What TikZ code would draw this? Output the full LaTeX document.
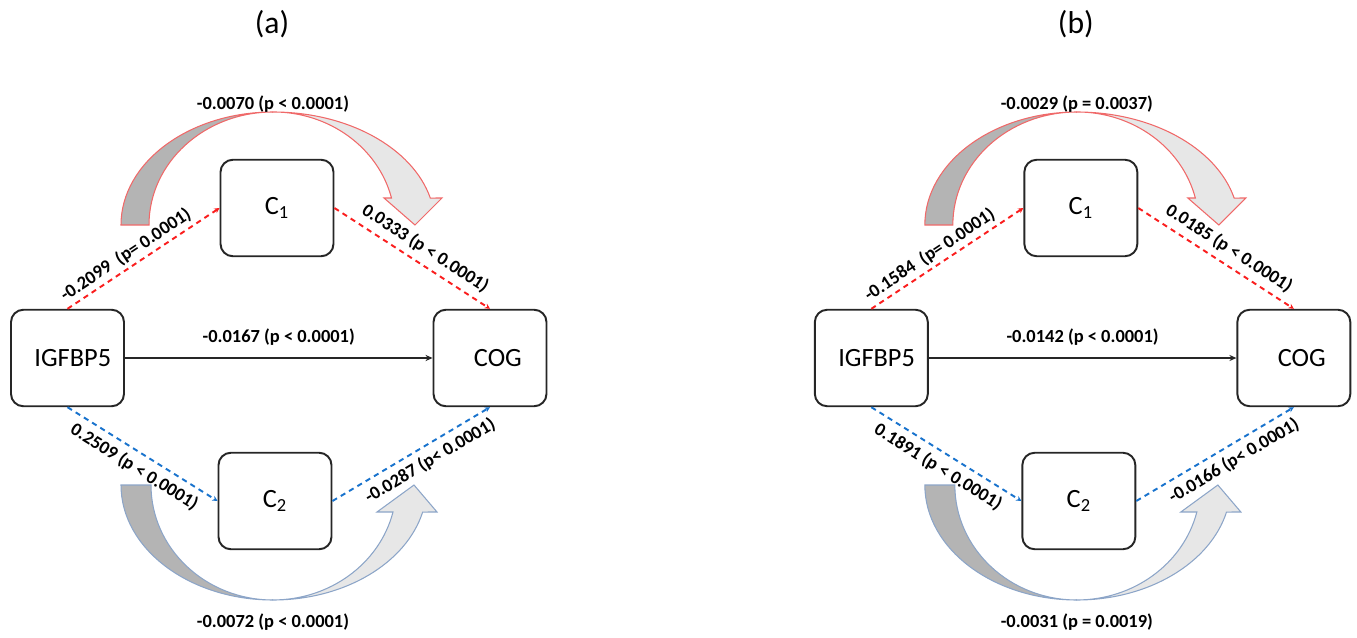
\documentclass[tikz,border=0pt]{standalone}
\usepackage{fontspec}
\setmainfont{Carlito}
\usetikzlibrary{arrows.meta}
\definecolor{pathred}{RGB}{250,30,30}
\definecolor{pathblue}{RGB}{25,115,205}
\definecolor{arcred}{RGB}{240,105,105}
\definecolor{arcblue}{RGB}{140,165,200}
\definecolor{backgray}{RGB}{180,180,180}
\definecolor{frontgray}{RGB}{231,231,231}

\begin{document}
\begin{tikzpicture}[x=0.02cm, y=0.02cm,
  var/.style={draw=black!85, line width=1.1pt, rounded corners=7pt, minimum width=2.26cm, minimum height=1.93cm, font=\fontsize{15}{18}\selectfont},
  coef/.style={text=black, font=\bfseries\fontsize{10.5}{12}\selectfont, inner sep=1pt},
  paneltitle/.style={font=\fontsize{18}{22}\selectfont},
  redpath/.style={pathred, line width=1.1pt, dash pattern=on 3pt off 2.5pt, -{Stealth[length=3pt,width=3pt]}},
  bluepath/.style={pathblue, line width=1.1pt, dash pattern=on 3pt off 2.5pt, -{Stealth[length=3pt,width=3pt]}},
  direct/.style={black!85, line width=0.9pt, -{Stealth[length=4pt,width=3.5pt]}},
  backarc/.style={fill=backgray, line width=0.6pt},
  frontarc/.style={fill=frontgray, line width=0.6pt}]
\useasboundingbox (0,0) rectangle (1357,637);

% panel (a)
\node[paneltitle] (ta) at (272,613) {(a)};
\node[var] (igfa) at (67.5,279) {\hspace*{6pt}IGFBP5};
\node[var] (coga) at (490,279) {\hspace*{9pt}COG};
\node[var] (c1a) at (277,429) {C\textsubscript{1}};
\node[var] (c2a) at (275,136) {C\textsubscript{2}};

% indirect effects, upper and lower
\filldraw[backarc, draw=arcred] (121,412) arc[start angle=180, end angle=90, x radius=152, y radius=113]
  arc[start angle=90, end angle=180, x radius=124, y radius=113] -- cycle;
\filldraw[frontarc, draw=arcred] (273,525) arc[start angle=90, end angle=13.8, x radius=162, y radius=113]
  -- (442,439) -- (415,412) -- (384,439) -- (391.5,439)
  arc[start angle=13.8, end angle=90, x radius=122, y radius=113] -- cycle;
\node[coef] (ka) at (273,533) {-0.0070 (p < 0.0001)};
\filldraw[backarc, draw=arcblue] (121,152) arc[start angle=180, end angle=270, x radius=152, y radius=115]
  arc[start angle=270, end angle=180, x radius=122, y radius=115] -- cycle;
\filldraw[frontarc, draw=arcblue] (273,37) arc[start angle=270, end angle=346.4, x radius=154, y radius=115]
  -- (437,125) -- (414,152) -- (377,125) -- (393,125)
  arc[start angle=346.4, end angle=270, x radius=123.5, y radius=115] -- cycle;
\node[coef] (ma) at (273,15) {-0.0072 (p < 0.0001)};

\draw[direct] (igfa) -- (coga) node[coef, midway, above=6pt] (da) {-0.0167 (p < 0.0001)};
\draw[redpath] (igfa.north) -- (c1a.west) node[coef, pos=.43, sloped, above=1pt] (ra1) {-0.2099 \ (p= 0.0001)};
\draw[redpath] (c1a.east) -- (coga.north) node[coef, pos=.53, sloped, above=2.5pt] (ra2) {0.0333 (p < 0.0001)};
\draw[bluepath] (igfa.south) -- (c2a.west) node[coef, pos=.5, sloped, below=2.5pt] (ba1) {0.2509 (p < 0.0001)};
\draw[bluepath] (c2a.east) -- (coga.south) node[coef, pos=.57, sloped, below=2.5pt] (ba2) {-0.0287 (p< 0.0001)};

% panel (b)
\begin{scope}[xshift=16.08cm]
\node[paneltitle] (tb) at (272,613) {(b)};
\node[var] (igfb) at (67.5,279) {\hspace*{6pt}IGFBP5};
\node[var] (cogb) at (490,279) {\hspace*{9pt}COG};
\node[var] (c1b) at (277,429) {C\textsubscript{1}};
\node[var] (c2b) at (275,136) {C\textsubscript{2}};

\filldraw[backarc, draw=arcred] (121,412) arc[start angle=180, end angle=90, x radius=152, y radius=113]
  arc[start angle=90, end angle=180, x radius=124, y radius=113] -- cycle;
\filldraw[frontarc, draw=arcred] (273,525) arc[start angle=90, end angle=13.8, x radius=162, y radius=113]
  -- (442,439) -- (415,412) -- (384,439) -- (391.5,439)
  arc[start angle=13.8, end angle=90, x radius=122, y radius=113] -- cycle;
\node[coef] (kb) at (273,533) {-0.0029 (p = 0.0037)};
\filldraw[backarc, draw=arcblue] (121,152) arc[start angle=180, end angle=270, x radius=152, y radius=115]
  arc[start angle=270, end angle=180, x radius=122, y radius=115] -- cycle;
\filldraw[frontarc, draw=arcblue] (273,37) arc[start angle=270, end angle=346.4, x radius=154, y radius=115]
  -- (437,125) -- (414,152) -- (377,125) -- (393,125)
  arc[start angle=346.4, end angle=270, x radius=123.5, y radius=115] -- cycle;
\node[coef] (mb) at (273,15) {-0.0031 (p = 0.0019)};

\draw[direct] (igfb) -- (cogb) node[coef, midway, above=6pt] (db) {-0.0142 (p < 0.0001)};
\draw[redpath] (igfb.north) -- (c1b.west) node[coef, pos=.43, sloped, above=1pt] (rb1) {-0.1584 \ (p= 0.0001)};
\draw[redpath] (c1b.east) -- (cogb.north) node[coef, pos=.53, sloped, above=2.5pt] (rb2) {0.0185 (p < 0.0001)};
\draw[bluepath] (igfb.south) -- (c2b.west) node[coef, pos=.5, sloped, below=2.5pt] (bb1) {0.1891 (p < 0.0001)};
\draw[bluepath] (c2b.east) -- (cogb.south) node[coef, pos=.57, sloped, below=2.5pt] (bb2) {-0.0166 (p< 0.0001)};
\end{scope}
\end{tikzpicture}
\end{document}
